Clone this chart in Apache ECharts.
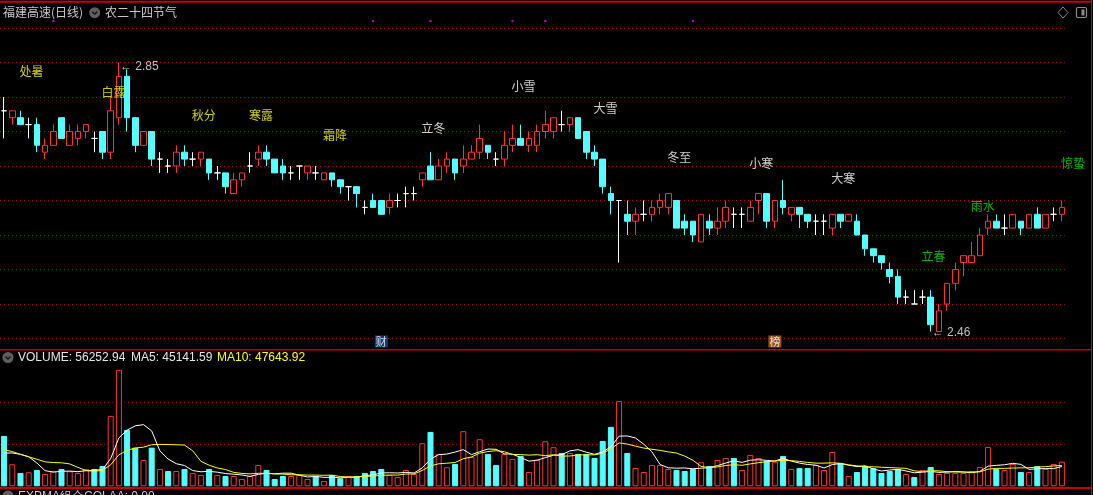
<!DOCTYPE html>
<html><head><meta charset="utf-8">
<script src="https://cdn.jsdelivr.net/npm/echarts@6/dist/echarts.min.js"></script>
<style>html,body{margin:0;padding:0;background:#000;}#c{width:1093px;height:495px;}</style>
</head><body><div id="c"></div>
<script>
// ---------- data ----------
const opens  = [2.78,2.77,2.77,2.76,2.76,2.72,2.73,2.77,2.73,2.74,2.75,2.74,2.75,2.72,2.77,2.83,2.77,2.73,2.75,2.71,
                2.70,2.70,2.72,2.71,2.71,2.71,2.69,2.69,2.66,2.68,2.70,2.71,2.72,2.71,2.70,2.69,2.70,2.69,2.69,2.68,
                2.69,2.68,2.67,2.67,2.64,2.65,2.65,2.64,2.65,2.66,2.66,2.68,2.70,2.68,2.70,2.71,2.70,2.71,2.72,2.73,
                2.71,2.71,2.73,2.74,2.73,2.73,2.75,2.75,2.76,2.76,2.77,2.75,2.72,2.71,2.66,2.65,2.63,2.62,2.63,2.63,
                2.64,2.64,2.65,2.62,2.62,2.59,2.62,2.61,2.62,2.63,2.63,2.62,2.65,2.66,2.62,2.65,2.63,2.64,2.63,2.62,
                2.62,2.61,2.63,2.62,2.62,2.60,2.58,2.57,2.55,2.54,2.51,2.50,2.51,2.51,2.46,2.50,2.53,2.56,2.56,2.57,
                2.61,2.62,2.61,2.61,2.62,2.61,2.63,2.61,2.63,2.63];
const closes = [2.78,2.78,2.76,2.76,2.73,2.73,2.75,2.74,2.75,2.75,2.76,2.74,2.72,2.78,2.83,2.77,2.73,2.75,2.71,2.71,
                2.70,2.72,2.71,2.71,2.72,2.69,2.69,2.67,2.68,2.69,2.70,2.72,2.71,2.69,2.69,2.69,2.70,2.70,2.69,2.69,
                2.68,2.67,2.67,2.66,2.64,2.64,2.63,2.65,2.65,2.66,2.66,2.69,2.68,2.70,2.71,2.69,2.71,2.72,2.74,2.72,
                2.71,2.73,2.74,2.73,2.74,2.75,2.76,2.77,2.76,2.77,2.74,2.72,2.71,2.67,2.65,2.65,2.62,2.63,2.63,2.64,
                2.65,2.66,2.61,2.61,2.60,2.63,2.61,2.62,2.64,2.63,2.63,2.64,2.66,2.62,2.65,2.64,2.64,2.63,2.62,2.62,
                2.62,2.63,2.62,2.63,2.60,2.58,2.57,2.56,2.54,2.51,2.51,2.50,2.51,2.47,2.49,2.53,2.55,2.57,2.57,2.60,
                2.62,2.61,2.61,2.63,2.61,2.63,2.61,2.63,2.63,2.64];
const highs  = [2.80,2.78,2.78,2.77,2.77,2.74,2.76,2.77,2.76,2.76,2.76,2.75,2.75,2.80,2.85,2.84,2.77,2.75,2.75,2.72,
                2.71,2.73,2.73,2.72,2.72,2.71,2.70,2.69,2.69,2.69,2.72,2.73,2.73,2.71,2.71,2.70,2.70,2.70,2.70,2.69,
                2.69,2.68,2.67,2.67,2.65,2.66,2.65,2.66,2.66,2.67,2.67,2.69,2.72,2.71,2.72,2.71,2.73,2.73,2.76,2.73,
                2.72,2.75,2.76,2.76,2.75,2.76,2.78,2.77,2.78,2.77,2.77,2.75,2.73,2.71,2.67,2.65,2.65,2.64,2.65,2.65,
                2.66,2.66,2.65,2.63,2.62,2.63,2.63,2.64,2.65,2.64,2.64,2.65,2.66,2.66,2.65,2.68,2.64,2.64,2.63,2.63,
                2.63,2.63,2.63,2.63,2.63,2.60,2.58,2.57,2.56,2.55,2.52,2.52,2.52,2.52,2.50,2.53,2.56,2.57,2.59,2.61,
                2.63,2.63,2.63,2.63,2.62,2.63,2.64,2.63,2.64,2.65];
const lows   = [2.74,2.76,2.76,2.74,2.72,2.71,2.73,2.74,2.73,2.73,2.74,2.72,2.71,2.71,2.76,2.75,2.72,2.73,2.70,2.69,
                2.69,2.69,2.70,2.70,2.70,2.68,2.68,2.66,2.66,2.67,2.69,2.70,2.70,2.69,2.68,2.68,2.68,2.68,2.68,2.68,
                2.67,2.66,2.65,2.64,2.63,2.64,2.63,2.63,2.64,2.64,2.65,2.67,2.68,2.68,2.69,2.68,2.69,2.71,2.71,2.71,
                2.70,2.70,2.72,2.73,2.72,2.72,2.74,2.74,2.75,2.75,2.74,2.71,2.70,2.66,2.63,2.56,2.60,2.60,2.62,2.62,
                2.63,2.63,2.61,2.60,2.59,2.59,2.60,2.60,2.61,2.61,2.61,2.62,2.63,2.61,2.61,2.63,2.62,2.61,2.61,2.60,
                2.60,2.60,2.61,2.62,2.60,2.57,2.56,2.55,2.53,2.50,2.50,2.50,2.50,2.46,2.46,2.49,2.52,2.54,2.56,2.57,
                2.60,2.61,2.60,2.61,2.60,2.61,2.61,2.61,2.62,2.62];
const volumes = [115200,50400,30500,32100,37300,28200,34400,39600,34400,30500,39600,39600,46500,161000,266300,128900,88400,60200,88400,39600,
                 35000,35000,39600,30500,25900,39600,25900,23600,23600,16700,23600,48800,37300,16700,23600,23600,25900,16700,23600,12100,
                 25900,18300,23600,23600,30500,35000,39600,25900,21300,37300,28200,98500,124300,74000,43500,51100,126000,67100,107600,74000,
                 48800,74000,62500,69400,32700,60200,103000,89300,76300,76300,74000,74000,64800,103700,135800,194700,76300,41900,32700,48800,
                 48800,39600,37300,35000,39600,55000,46500,60200,64800,64800,37300,71700,64800,57900,56300,69400,39600,41900,41900,48800,
                 37300,78500,53400,23600,32700,46500,41900,30500,35000,39600,28200,21300,37300,44200,28200,30500,30500,30500,35000,44200,
                 90000,39600,37300,51100,32700,32700,46500,39600,51100,56252.94];
// estimated volumes of the 9 sessions before the window (for the moving averages)
const priorVolumes = [90000,95000,88000,92000,88000,50000,45000,60000,110000];

const termNames  = ['处暑','白露','秋分','寒露','霜降','立冬','小雪','大雪','冬至','小寒','大寒','立春','雨水','惊蛰'];
const termIndex  = [2,12,23,30,39,51,62,72,81,91,101,112,118,129];
const termLevel  = [2.837,2.806,2.774,2.774,2.744,2.754,2.815,2.784,2.713,2.704,2.682,2.569,2.642,2.703];
const termColors = ['#ffff00','#ffff00','#ffff00','#ffff00','#ffff00','#ffffff','#ffffff','#ffffff','#ffffff','#ffffff','#ffffff','#00e000','#00e000','#00e000'];

const badgeText  = ['财','榜'];
const badgeIndex = [46,94];
const badgeLevel = [2.4457,2.4457];
const badgeBg    = ['#1e4b8c','#c0661e'];

const dotIndex = [6,45,52,62,66,84];
const dotLevel = 2.910;

const volumeLabel = 'VOLUME: 56252.94';
const ma5Label = 'MA5: 45141.59';
const ma10Label = 'MA10: 47643.92';

// ---------- build ----------
const N = opens.length;
const days = Array.from({length: N}, (_, i) => String(i + 1));
const UP = '#ff3232', DOWN = '#54ffff';

const candleData = opens.map((o, i) => {
  const item = {value: [o, closes[i], lows[i], highs[i]]};
  if (o === closes[i]) item.itemStyle = {color: '#fff', color0: '#fff', borderColor: '#fff', borderColor0: '#fff'};
  return item;
});
function isUp(i) {
  if (closes[i] > opens[i]) return true;
  if (closes[i] < opens[i]) return false;
  return i === 0 ? false : closes[i] >= closes[i - 1];
}
const volData = volumes.map((v, i) => ({
  value: v,
  itemStyle: isUp(i) ? {color: '#000', borderColor: UP, borderWidth: 1} : {color: DOWN, borderColor: DOWN, borderWidth: 1}
}));
const allVol = priorVolumes.concat(volumes);
function movingAvg(n) {
  return volumes.map((_, i) => {
    let s = 0;
    for (let k = 0; k < n; k++) s += allVol[i + priorVolumes.length - k];
    return +(s / n).toFixed(2);
  });
}
const ma5 = movingAvg(5), ma10 = movingAvg(10);

const termData = termNames.map((n, i) => ({
  value: [termIndex[i], termLevel[i]], name: n,
  label: {color: termColors[i]}
}));
const badgeData = badgeText.map((t, i) => ({
  value: [badgeIndex[i], badgeLevel[i]], name: t,
  itemStyle: {color: badgeBg[i]}
}));
const dotData = dotIndex.map(i => [i, dotLevel]);

const GRID_W = 1066;
const CJK = '"Noto Sans CJK SC", sans-serif';
const LAT = '"Liberation Sans", Arial, sans-serif';

function chevronIcon(cx, cy) {
  return [
    {type: 'circle', shape: {cx: cx, cy: cy, r: 5.5}, style: {fill: '#5e5e5e'}},
    {type: 'polyline', shape: {points: [[cx - 2.5, cy - 1], [cx, cy + 1.5], [cx + 2.5, cy - 1]]}, style: {stroke: '#111', lineWidth: 1.3, fill: null}}
  ];
}

const chart = echarts.init(document.getElementById('c'));
chart.setOption({
  backgroundColor: '#000',
  animation: false,
  grid: [
    {left: 0, width: GRID_W, top: 28, height: 310.5},
    {left: 0, width: GRID_W, top: 360.3, height: 126}
  ],
  xAxis: [
    {type: 'category', data: days, gridIndex: 0, boundaryGap: true, axisLine: {show: false}, axisTick: {show: false}, axisLabel: {show: false}, splitLine: {show: false}},
    {type: 'category', data: days, gridIndex: 1, boundaryGap: true, axisLine: {show: false}, axisTick: {show: false}, axisLabel: {show: false}, splitLine: {show: false}}
  ],
  yAxis: [
    {type: 'value', gridIndex: 0, min: 2.45, max: 2.90, interval: 0.05, axisLine: {show: false}, axisTick: {show: false}, axisLabel: {show: false},
     splitLine: {show: true, lineStyle: {color: '#b00000', type: [1, 3], width: 1}}},
    {type: 'value', gridIndex: 1, min: 0, max: 288000, interval: 96000, axisLine: {show: false}, axisTick: {show: false}, axisLabel: {show: false},
     splitLine: {show: true, showMinLine: false, showMaxLine: false, lineStyle: {color: '#b00000', type: [1, 3], width: 1}}}
  ],
  series: [
    {
      type: 'candlestick', xAxisIndex: 0, yAxisIndex: 0, data: candleData, barWidth: 6,
      itemStyle: {color: '#000', color0: DOWN, borderColor: UP, borderColor0: DOWN, borderWidth: 1},
      markPoint: {
        symbol: 'circle', symbolSize: 0, silent: true,
        label: {show: true, position: 'right', distance: 1, color: '#c0c0c0', fontFamily: LAT, fontSize: 12,
                formatter: p => '\u2190 ' + Number(p.value).toFixed(2)},
        data: [
          {type: 'max', valueDim: 'highest', label: {offset: [0, 4]}},
          {type: 'min', valueDim: 'lowest', label: {offset: [0, 1]}}
        ]
      }
    },
    {
      type: 'scatter', xAxisIndex: 0, yAxisIndex: 0, data: termData, symbolSize: 0, silent: true, clip: false,
      label: {show: true, position: 'right', distance: -1, formatter: p => p.name, fontFamily: CJK, fontSize: 12}
    },
    {
      type: 'scatter', xAxisIndex: 0, yAxisIndex: 0, data: badgeData, symbol: 'rect', symbolSize: [13, 12], silent: true, clip: false,
      label: {show: true, position: 'inside', formatter: p => p.name, color: '#fff', fontFamily: CJK, fontSize: 11}
    },
    {
      type: 'scatter', xAxisIndex: 0, yAxisIndex: 0, data: dotData, symbol: 'rect', symbolSize: 2, silent: true, clip: false,
      itemStyle: {color: '#ff00ff'}
    },
    {type: 'bar', xAxisIndex: 1, yAxisIndex: 1, data: volData, barWidth: 6},
    {type: 'line', xAxisIndex: 1, yAxisIndex: 1, data: ma5, symbol: 'none', lineStyle: {color: '#ffffff', width: 1}},
    {type: 'line', xAxisIndex: 1, yAxisIndex: 1, data: ma10, symbol: 'none', lineStyle: {color: '#ffff00', width: 1}}
  ],
  graphic: [
    {type: 'line', shape: {x1: 0, y1: 1.7, x2: 1092, y2: 1.7}, style: {stroke: '#c80000', lineWidth: 2}},
    {type: 'line', shape: {x1: 1091.5, y1: 0, x2: 1091.5, y2: 495}, style: {stroke: '#c80000', lineWidth: 1}},
    {type: 'line', shape: {x1: 0, y1: 349.8, x2: 1092, y2: 349.8}, style: {stroke: '#c80000', lineWidth: 1.5}},
    {type: 'line', shape: {x1: 0, y1: 488, x2: 1092, y2: 488}, style: {stroke: '#c80000', lineWidth: 2}},
    {type: 'text', x: 3, y: 12.5, style: {text: '福建高速(日线)', fill: '#c8c8c8', font: '12px ' + CJK, verticalAlign: 'middle'}},
    ...chevronIcon(94.7, 12.7),
    {type: 'text', x: 105, y: 12.5, style: {text: '农二十四节气', fill: '#c8c8c8', font: '12px ' + CJK, verticalAlign: 'middle'}},
    {type: 'polygon', shape: {points: [[1063, 7], [1068, 12.5], [1063, 18], [1058, 12.5]]}, style: {stroke: '#8a8a8a', fill: null, lineWidth: 1}},
    {type: 'rect', shape: {x: 1076.5, y: 7.5, width: 10, height: 10, r: 1.5}, style: {stroke: '#8a8a8a', fill: null, lineWidth: 1.2}},
    {type: 'rect', shape: {x: 1081.5, y: 9.5, width: 3, height: 6}, style: {fill: '#8a8a8a'}},
    ...chevronIcon(8, 357.5),
    {type: 'text', x: 18, y: 357.5, style: {text: volumeLabel, fill: '#e6e6e6', font: '12px ' + LAT, verticalAlign: 'middle'}},
    {type: 'text', x: 131, y: 357.5, style: {text: ma5Label, fill: '#e6e6e6', font: '12px ' + LAT, verticalAlign: 'middle'}},
    {type: 'text', x: 217, y: 357.5, style: {text: ma10Label, fill: '#ffff00', font: '12px ' + LAT, verticalAlign: 'middle'}},
    ...chevronIcon(8, 496),
    {type: 'text', x: 18, y: 497, style: {text: 'EXPMA组合COLAA: 0.00', fill: '#c8c8c8', font: '12px ' + LAT, verticalAlign: 'middle'}}
  ]
});
</script>
</body></html>
